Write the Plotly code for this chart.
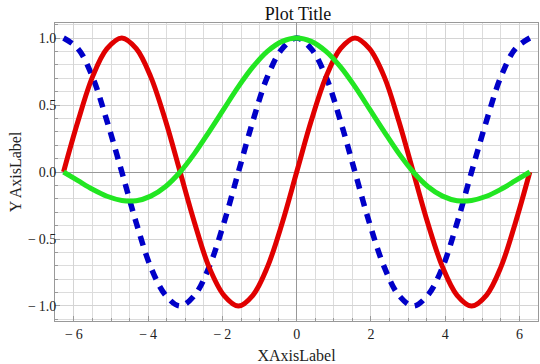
import plotly.graph_objects as go

# x positions
x_vals = [-6.28, -5.89, -5.50, -5.11, -4.71, -4.32, -3.93, -3.53, -3.14, -2.75, -2.36,
          -1.96, -1.57, -1.18, -0.79, -0.39, 0.0, 0.39, 0.79, 1.18, 1.57, 1.96, 2.36,
          2.75, 3.14, 3.53, 3.93, 4.32, 4.71, 5.11, 5.50, 5.89, 6.28]

red_vals = [0.0, 0.38, 0.71, 0.92, 1.0, 0.92, 0.71, 0.38, 0.0, -0.38, -0.71,
            -0.92, -1.0, -0.92, -0.71, -0.38, 0.0, 0.38, 0.71, 0.92, 1.0, 0.92, 0.71,
            0.38, 0.0, -0.38, -0.71, -0.92, -1.0, -0.92, -0.71, -0.38, 0.0]

blue_vals = [1.0, 0.92, 0.71, 0.38, 0.0, -0.38, -0.71, -0.92, -1.0, -0.92, -0.71,
             -0.38, 0.0, 0.38, 0.71, 0.92, 1.0, 0.92, 0.71, 0.38, 0.0, -0.38, -0.71,
             -0.92, -1.0, -0.92, -0.71, -0.38, 0.0, 0.38, 0.71, 0.92, 1.0]

green_vals = [0.0, -0.065, -0.129, -0.181, -0.212, -0.214, -0.18, -0.108, 0.0, 0.139, 0.30,
              0.471, 0.637, 0.784, 0.90, 0.975, 1.0, 0.975, 0.90, 0.784, 0.637, 0.471, 0.30,
              0.139, 0.0, -0.108, -0.18, -0.214, -0.212, -0.181, -0.129, -0.065, 0.0]

x_ticks = [-6, -4, -2, 0, 2, 4, 6]
x_tick_text = ["\u2212\u20096", "\u2212\u20094", "\u2212\u20092", "0", "2", "4", "6"]
y_ticks = [-1.0, -0.5, 0.0, 0.5, 1.0]
y_tick_text = ["\u2212\u20091.0", "\u2212\u20090.5", "0.0", "0.5", "1.0"]

serif = "Liberation Serif"

fig = go.Figure()
fig.add_trace(go.Scatter(x=x_vals, y=blue_vals, mode="lines", line_shape="spline",
                         line=dict(color="#0000c8", width=5.5, dash="10px,8px")))
fig.add_trace(go.Scatter(x=x_vals, y=red_vals, mode="lines", line_shape="spline",
                         line=dict(color="#e00000", width=5)))
fig.add_trace(go.Scatter(x=x_vals, y=green_vals, mode="lines", line_shape="spline",
                         line=dict(color="#22e622", width=5)))

fig.update_layout(
    width=540, height=364,
    margin=dict(l=55, r=2, t=23, b=43),
    paper_bgcolor="white", plot_bgcolor="white",
    showlegend=False,
    title=dict(text="Plot Title", x=0.552, xanchor="center", y=0.962, yanchor="middle",
               font=dict(family=serif, size=18, color="#111")),
    font=dict(family=serif, size=14, color="#222"),
)

fig.update_xaxes(
    range=[-6.51, 6.5], tickvals=x_ticks, ticktext=x_tick_text,
    showgrid=True, gridcolor="#d4d4d4", gridwidth=1,
    minor=dict(dtick=0.5, showgrid=True, gridcolor="#dcdcdc", ticks="inside", ticklen=3, tickcolor="#999"),
    zeroline=True, zerolinecolor="#999", zerolinewidth=1,
    showline=True, linecolor="#999", linewidth=1, mirror=True,
    ticks="inside", ticklen=5, tickcolor="#999",
    tickfont=dict(family=serif, size=14, color="#222"),
    title=dict(text="XAxisLabel", font=dict(family=serif, size=16, color="#222"), standoff=10),
)
fig.update_yaxes(
    range=[-1.112, 1.112], tickvals=y_ticks, ticktext=y_tick_text,
    showgrid=True, gridcolor="#d4d4d4", gridwidth=1,
    minor=dict(dtick=0.1, showgrid=True, gridcolor="#dcdcdc", ticks="inside", ticklen=3, tickcolor="#999"),
    zeroline=True, zerolinecolor="#999", zerolinewidth=1,
    showline=True, linecolor="#999", linewidth=1, mirror=True,
    ticks="inside", ticklen=5, tickcolor="#999",
    ticklabelstandoff=-5,
    tickfont=dict(family=serif, size=14, color="#222"),
    title=dict(text="Y AxisLabel", font=dict(family=serif, size=16, color="#222"), standoff=2),
)

fig.write_html("out.html")
